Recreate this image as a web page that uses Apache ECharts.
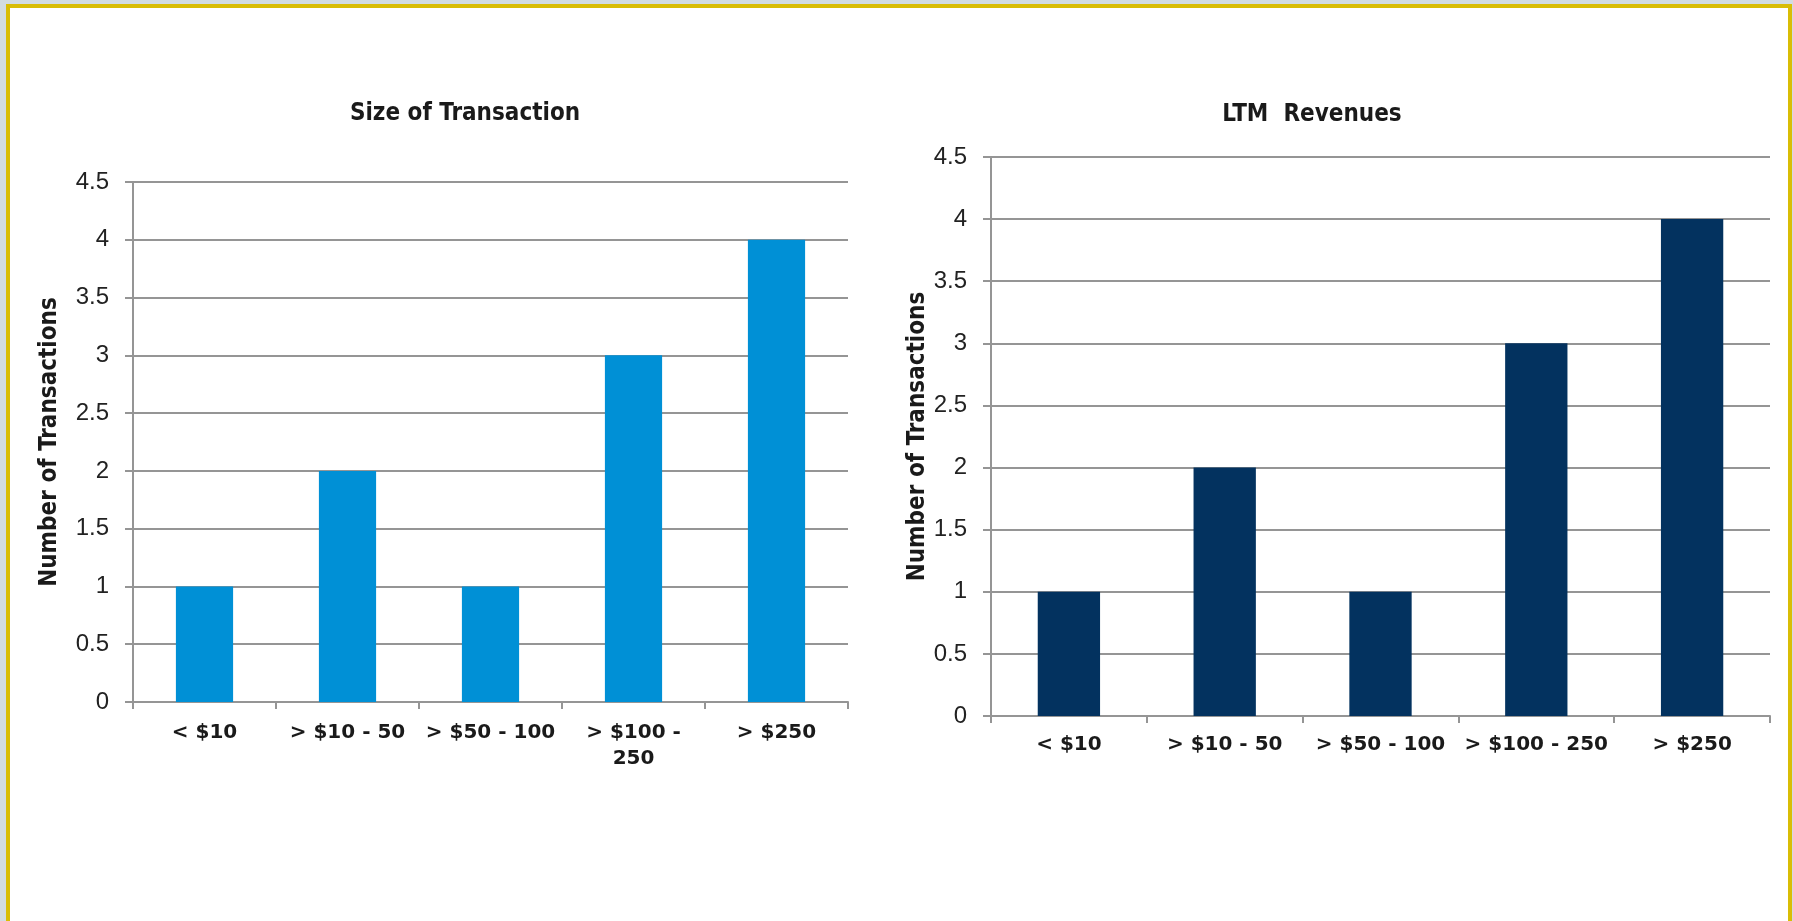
<!DOCTYPE html>
<html>
<head>
<meta charset="utf-8">
<title>Transactions</title>
<script src="https://cdn.jsdelivr.net/npm/echarts@6/dist/echarts.min.js"></script>
<style>
  html, body {
    margin: 0;
    padding: 0;
    width: 1793px;
    height: 921px;
    overflow: hidden;
    background: #d2dce1;
  }
  .frame {
    position: absolute;
    left: 6px;
    top: 4px;
    width: 1778px;
    height: 1000px;
    border: 4px solid #d9bd05;
    background: #ffffff;
  }
  #chart {
    position: absolute;
    left: 0;
    top: 0;
    width: 1793px;
    height: 921px;
  }
</style>
</head>
<body>
<div class="frame"></div>
<div id="chart"></div>
<script>
  // data
  const sizeLabels = ['< $10', '> $10 - 50', '> $50 - 100', '> $100 -\n250', '> $250'];
  const revenueLabels = ['< $10', '> $10 - 50', '> $50 - 100', '> $100 - 250', '> $250'];
  const sizeCounts = [1, 2, 1, 3, 4];
  const revenueCounts = [1, 2, 1, 3, 4];
  const yTicks = { min: 0, max: 4.5, step: 0.5 };

  const gridColor = '#959595';
  const titleFont = '"DejaVu Sans Condensed", "DejaVu Sans", sans-serif';

  const makeX = (idx, labels, margin) => ({
    type: 'category',
    gridIndex: idx,
    data: labels,
    axisLine: { lineStyle: { color: gridColor, width: 2 } },
    axisTick: { show: true, length: 7, lineStyle: { color: gridColor, width: 2 } },
    axisLabel: {
      interval: 0,
      margin: margin,
      color: '#1a1a1a',
      fontFamily: '"DejaVu Sans", sans-serif',
      fontWeight: 'bold',
      fontSize: 20,
      lineHeight: 26,
    },
  });

  const makeY = (idx, nameGap) => ({
    type: 'value',
    gridIndex: idx,
    min: yTicks.min,
    max: yTicks.max,
    interval: yTicks.step,
    name: 'Number of Transactions',
    nameLocation: 'middle',
    nameGap: nameGap,
    nameTextStyle: {
      color: '#1a1a1a',
      fontFamily: titleFont,
      fontWeight: 'bold',
      fontSize: 24,
    },
    axisLine: { show: true, lineStyle: { color: gridColor, width: 2 } },
    axisTick: { show: true, length: 8, lineStyle: { color: gridColor, width: 2 } },
    splitLine: { show: true, lineStyle: { color: gridColor, width: 2 } },
    axisLabel: {
      margin: 24,
      color: '#222222',
      fontFamily: '"Liberation Sans", Arial, sans-serif',
      fontSize: 24,
    },
  });

  const option = {
    animation: false,
    title: [
      {
        text: 'Size of Transaction',
        left: 465,
        top: 114,
        textAlign: 'center',
        textVerticalAlign: 'middle',
        padding: 0,
        textStyle: { color: '#1a1a1a', fontFamily: titleFont, fontWeight: 'bold', fontSize: 24 },
      },
      {
        text: 'LTM  Revenues',
        left: 1312,
        top: 115,
        textAlign: 'center',
        textVerticalAlign: 'middle',
        padding: 0,
        textStyle: { color: '#1a1a1a', fontFamily: titleFont, fontWeight: 'bold', fontSize: 24 },
      },
    ],
    grid: [
      { left: 133, top: 182, width: 715, height: 520 },
      { left: 991, top: 157, width: 779, height: 559 },
    ],
    xAxis: [makeX(0, sizeLabels, 18), makeX(1, revenueLabels, 16)],
    yAxis: [makeY(0, 71), makeY(1, 60)],
    series: [
      {
        type: 'bar',
        xAxisIndex: 0,
        yAxisIndex: 0,
        data: sizeCounts,
        barWidth: '40%',
        itemStyle: { color: '#0090d6' },
      },
      {
        type: 'bar',
        xAxisIndex: 1,
        yAxisIndex: 1,
        data: revenueCounts,
        barWidth: '40%',
        itemStyle: { color: '#03325f' },
      },
    ],
  };

  const myChart = echarts.init(document.getElementById('chart'));
  option && myChart.setOption(option);
  window.addEventListener('resize', function () {
    myChart && myChart.resize();
  });
</script>
</body>
</html>
